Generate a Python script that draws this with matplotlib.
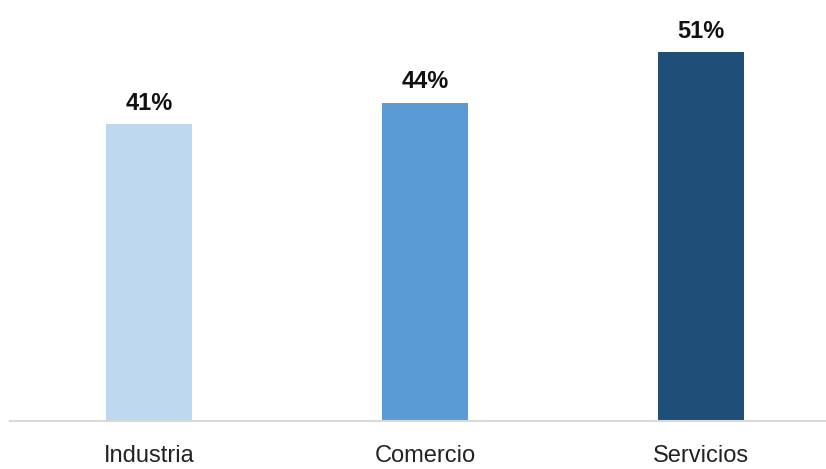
import numpy as np
import matplotlib.pyplot as plt

categories = ["Industria", "Comercio", "Servicios"]
values = [41, 44, 51]
colors = ["#BDD7EE", "#5B9BD5", "#1F4E79"]

plt.rcParams['font.family'] = ['Liberation Sans', 'DejaVu Sans']

fig = plt.figure(figsize=(8.26, 4.69), dpi=100)
ax = fig.add_axes([10 / 826, 48 / 469, 816 / 826, 421 / 469])

x = np.arange(len(categories))
bars = ax.bar(x, values, width=0.312, color=colors)

for xi, v in zip(x, values):
    ax.text(xi, v + 2.9, f"{v}%", ha="center", va="center",
            fontsize=17, fontweight="bold", color="#111111")

ax.set_xlim(-0.5036, 2.453)
ax.set_ylim(0, 58.2)
ax.set_xticks(x)
ax.set_xticklabels(categories, fontsize=17, color="#222222")
ax.tick_params(axis="x", length=0, pad=17)
ax.set_yticks([])
for s in ["top", "left", "right"]:
    ax.spines[s].set_visible(False)
ax.spines["bottom"].set_color("#D9D9D9")
ax.spines["bottom"].set_linewidth(1.5)

fig.savefig("out.png", dpi=100)
